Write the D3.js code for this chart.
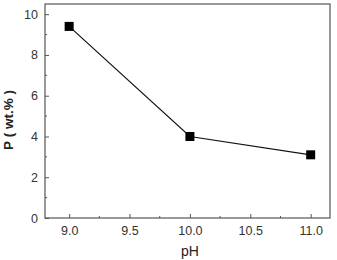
<!DOCTYPE html>
<html>
<head>
<meta charset="utf-8">
<script src="https://cdn.jsdelivr.net/npm/d3@7"></script>
<style>
  body { margin: 0; background: #fff; }
  svg { display: block; font-family: "Liberation Sans", Arial, sans-serif; }
</style>
</head>
<body>
<div id="chart"></div>
<script>
// data
const phValues = [9.0, 10.0, 11.0]
const pContent = [9.4, 4.0, 3.1]
const xTickValues = [9.0, 9.5, 10.0, 10.5, 11.0]
const yTickValues = [0, 2, 4, 6, 8, 10]

const W = 337, H = 260
const margin = { top: 4, right: 7, bottom: 42, left: 45 }
const width = W - margin.left - margin.right
const height = H - margin.top - margin.bottom

const svg = d3.select('#chart').append('svg')
  .attr('width', W)
  .attr('height', H)

const g = svg.append('g')
  .attr('transform', `translate(${margin.left},${margin.top})`)

const x = d3.scaleLinear().domain([8.8, 11.16]).range([0, width])
const y = d3.scaleLinear().domain([0, 10.5]).range([height, 0])

// frame
g.append('rect')
  .attr('width', width).attr('height', height)
  .attr('fill', 'none').attr('stroke', '#555').attr('stroke-width', 1.2)

// minor ticks (inward)
const xMinor = d3.range(8.75, 11.2, 0.5).filter(v => v > 8.8 && v < 11.16)
g.selectAll('.xminor').data(xMinor).enter().append('line')
  .attr('x1', d => x(d)).attr('x2', d => x(d))
  .attr('y1', height).attr('y2', height - 2)
  .attr('stroke', '#555')
const yMinor = d3.range(1, 10.5, 2)
g.selectAll('.yminor').data(yMinor).enter().append('line')
  .attr('x1', 0).attr('x2', 2)
  .attr('y1', d => y(d)).attr('y2', d => y(d))
  .attr('stroke', '#555')

// axes: inward major ticks
const xAxis = g.append('g')
  .attr('transform', `translate(0,${height})`)
  .call(d3.axisBottom(x).tickValues(xTickValues).tickFormat(d3.format('.1f')).tickSizeInner(-4).tickSizeOuter(0).tickPadding(8))
xAxis.select('.domain').remove()
xAxis.selectAll('line').attr('stroke', '#555')
xAxis.attr('font-size', 12.5).attr('font-family', null)
xAxis.selectAll('text').attr('fill', '#333')

const yAxis = g.append('g')
  .call(d3.axisLeft(y).tickValues(yTickValues).tickSizeInner(-4).tickSizeOuter(0).tickPadding(7))
yAxis.select('.domain').remove()
yAxis.selectAll('line').attr('stroke', '#555')
yAxis.attr('font-size', 12.5).attr('font-family', null)
yAxis.selectAll('text').attr('fill', '#333')

// series
const pts = phValues.map((v, i) => [v, pContent[i]])
g.append('path')
  .datum(pts)
  .attr('fill', 'none')
  .attr('stroke', '#111')
  .attr('stroke-width', 1.2)
  .attr('d', d3.line().x(d => x(d[0])).y(d => y(d[1])))

const s = 9
g.selectAll('.pt').data(pts).enter().append('rect')
  .attr('x', d => x(d[0]) - s / 2)
  .attr('y', d => y(d[1]) - s / 2)
  .attr('width', s).attr('height', s)
  .attr('fill', '#000')

// axis titles
svg.append('text')
  .attr('x', margin.left + x(10.0))
  .attr('y', 256)
  .attr('text-anchor', 'middle')
  .attr('font-size', 14)
  .attr('fill', '#222')
  .text('pH')

svg.append('text')
  .attr('transform', `translate(13,${margin.top + height / 2 + 9}) rotate(-90)`)
  .attr('text-anchor', 'middle')
  .attr('font-size', 13.5)
  .attr('font-weight', 'bold')
  .attr('fill', '#222')
  .text('P ( wt.% )')
</script>
</body>
</html>
